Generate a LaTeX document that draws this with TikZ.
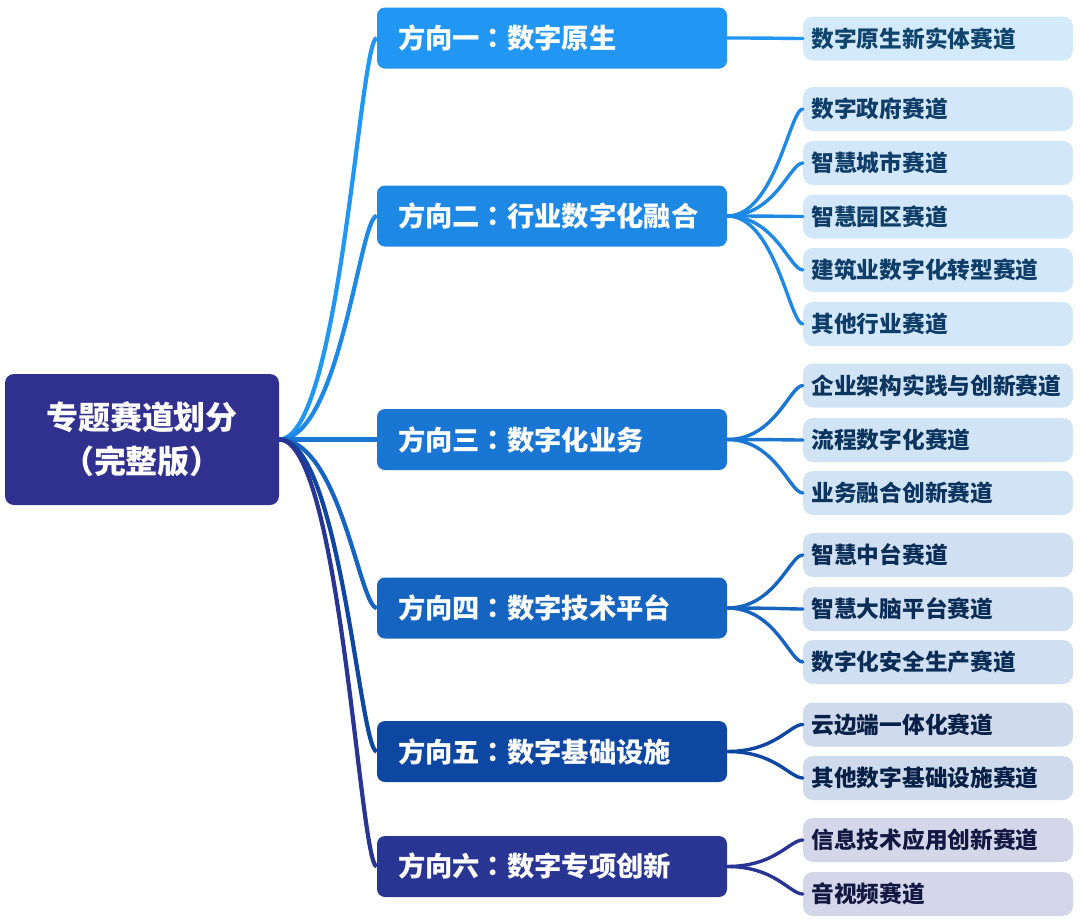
\documentclass[tikz,border=0pt]{standalone}
\usepackage{fontspec}
\setmainfont{Noto Sans CJK SC}
\newfontfamily\tcfont{Noto Sans CJK TC}
\usetikzlibrary{calc}
\definecolor{rootc}{HTML}{30318F}
\definecolor{ca}{HTML}{2196F3}
\definecolor{cb}{HTML}{1E88E5}
\definecolor{cc}{HTML}{1976D2}
\definecolor{cd}{HTML}{1565C0}
\definecolor{ce}{HTML}{0D47A1}
\definecolor{cf}{HTML}{283593}
\newcommand{\fwcolon}{{\tcfont ：}}
\tikzset{
  rootbox/.style={fill=rootc, rounded corners=9pt, minimum width=274pt, minimum height=131pt,
    text=white, align=center, font=\bfseries\fontsize{32}{44}\selectfont, inner sep=0pt},
  dirbox/.style={fill=#1, rounded corners=8pt, minimum width=350pt, minimum height=61pt,
    text width=308pt, inner xsep=21pt, inner ysep=0pt, align=left, text=white,
    font=\bfseries\fontsize{27.3}{32}\selectfont},
  trackbox/.style={fill=#1!20!white, rounded corners=10pt, minimum width=270pt, minimum height=44pt,
    text width=253pt, inner xsep=8.5pt, inner ysep=0pt, align=left, text=#1!45!black,
    font=\bfseries\fontsize{22.7}{26}\selectfont},
  rootlink/.style={draw=#1, line width=4.2pt},
  leaflink/.style={draw=#1, line width=3.4pt, line cap=round},
}
\newcommand{\rlink}[2]{\draw[rootlink=#1] (root.east) .. controls ($(root.east)+(61,0)$) and ($(#2.west)+(-17,0)$) .. (#2.west);}
\newcommand{\llink}[3]{\draw[leaflink=#1] (#2.east) .. controls ($(#2.east)+(48,0)$) and ($(#3.west)+(-13,0)$) .. (#3.west);}
\begin{document}
\begin{tikzpicture}[x=1pt,y=-1pt]
\useasboundingbox (0,0) rectangle (1080,924);
\fill[white] (0,0) rectangle (1080,924);

\node[rootbox] (root) at (142,439.5) {专题赛道划分\\（完整版）};

\node[dirbox=ca] (d1) at (552,38) {方向一\fwcolon 数字原生};
\node[dirbox=cb] (d2) at (552,216) {方向二\fwcolon 行业数字化融合};
\node[dirbox=cc] (d3) at (552,439.5) {方向三\fwcolon 数字化业务};
\node[dirbox=cd] (d4) at (552,608) {方向四\fwcolon 数字技术平台};
\node[dirbox=ce] (d5) at (552,751.5) {方向五\fwcolon 数字基础设施};
\node[dirbox=cf] (d6) at (552,866.5) {方向六\fwcolon 数字专项创新};

\node[trackbox=ca] (t11) at (938,38.5) {数字原生新实体赛道};
\node[trackbox=cb] (t21) at (938,109) {数字政府赛道};
\node[trackbox=cb] (t22) at (938,163) {智慧城市赛道};
\node[trackbox=cb] (t23) at (938,216.5) {智慧园区赛道};
\node[trackbox=cb] (t24) at (938,270) {建筑业数字化转型赛道};
\node[trackbox=cb] (t25) at (938,324) {其他行业赛道};
\node[trackbox=cc] (t31) at (938,385.5) {企业架构实践与创新赛道};
\node[trackbox=cc] (t32) at (938,440) {流程数字化赛道};
\node[trackbox=cc] (t33) at (938,493) {业务融合创新赛道};
\node[trackbox=cd] (t41) at (938,555) {智慧中台赛道};
\node[trackbox=cd] (t42) at (938,609) {智慧大脑平台赛道};
\node[trackbox=cd] (t43) at (938,662) {数字化安全生产赛道};
\node[trackbox=ce] (t51) at (938,724.5) {云边端一体化赛道};
\node[trackbox=ce] (t52) at (938,778) {其他数字基础设施赛道};
\node[trackbox=cf] (t61) at (938,840) {信息技术应用创新赛道};
\node[trackbox=cf] (t62) at (938,894) {音视频赛道};

\rlink{ca}{d1}
\rlink{cb}{d2}
\rlink{cc}{d3}
\rlink{cd}{d4}
\rlink{ce}{d5}
\rlink{cf}{d6}

\llink{ca}{d1}{t11}
\llink{cb}{d2}{t21}
\llink{cb}{d2}{t22}
\llink{cb}{d2}{t23}
\llink{cb}{d2}{t24}
\llink{cb}{d2}{t25}
\llink{cc}{d3}{t31}
\llink{cc}{d3}{t32}
\llink{cc}{d3}{t33}
\llink{cd}{d4}{t41}
\llink{cd}{d4}{t42}
\llink{cd}{d4}{t43}
\llink{ce}{d5}{t51}
\llink{ce}{d5}{t52}
\llink{cf}{d6}{t61}
\llink{cf}{d6}{t62}
\end{tikzpicture}
\end{document}
